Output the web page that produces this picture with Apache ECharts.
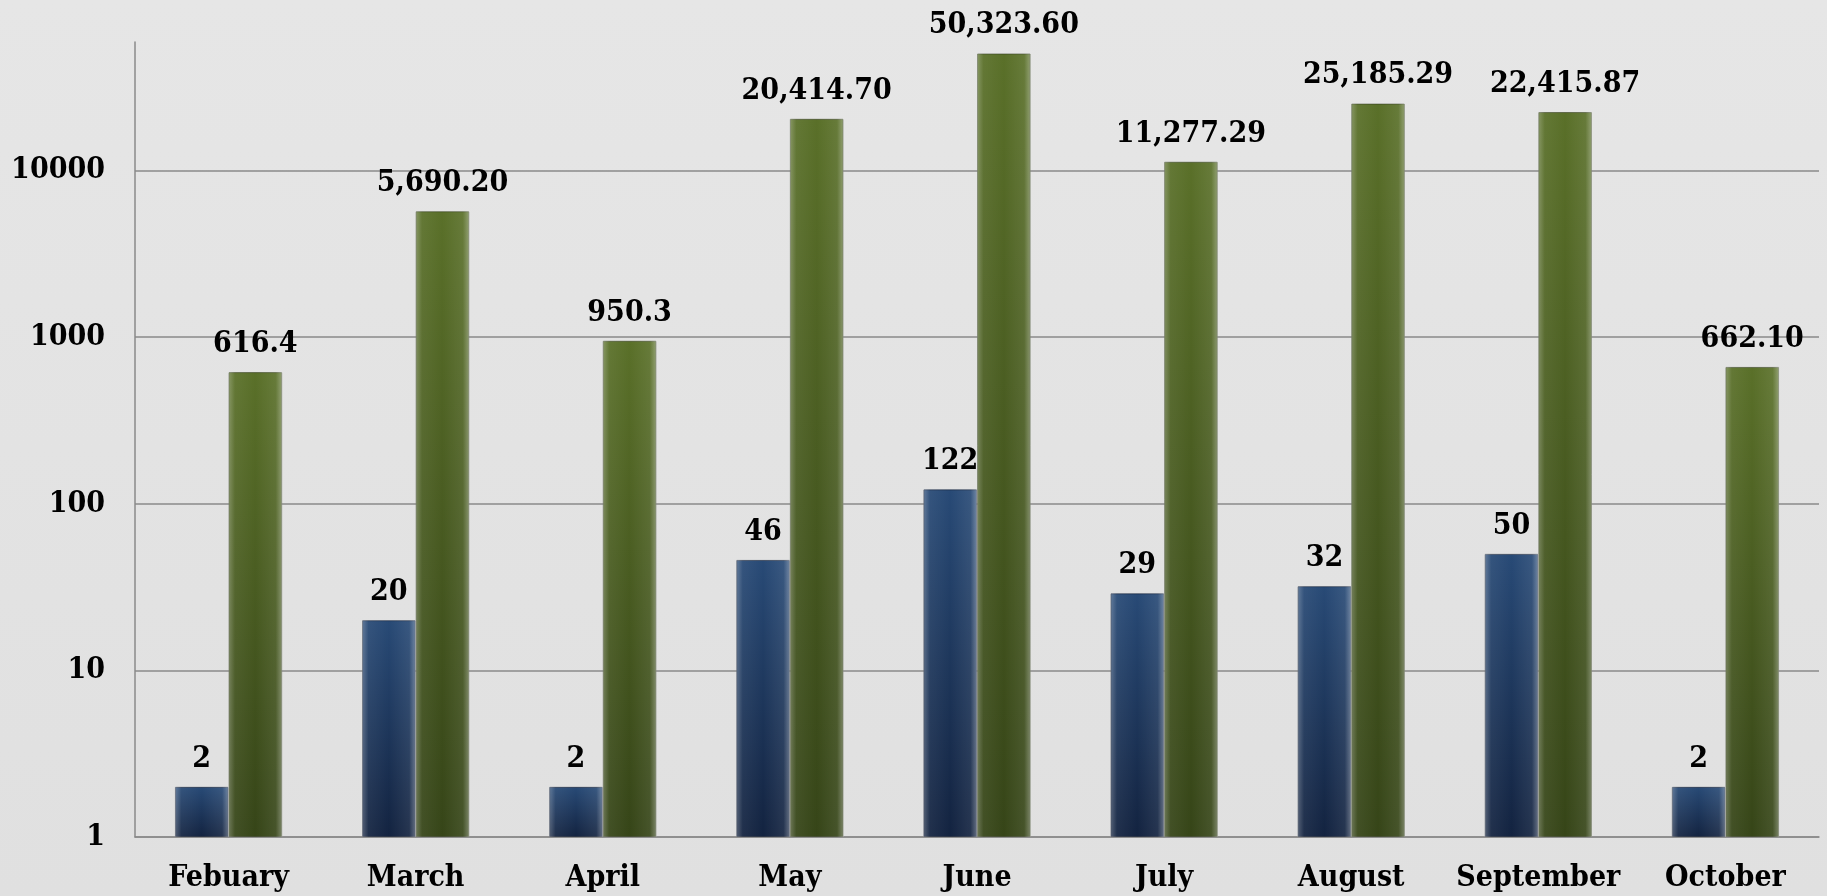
<!DOCTYPE html>
<html>
<head>
<meta charset="utf-8">
<script src="https://cdn.jsdelivr.net/npm/echarts@6/dist/echarts.min.js"></script>
<style>
  html, body { margin: 0; padding: 0; background: #e3e3e3; }
  #chart { width: 1827px; height: 896px; }
</style>
</head>
<body>
<div id="chart"></div>
<script>
const months = ['Febuary', 'March', 'April', 'May', 'June', 'July', 'August', 'September', 'October']
const blueValues = [2, 20, 2, 46, 122, 29, 32, 50, 2]
const greenValues = [616.4, 5690.20, 950.3, 20414.70, 50323.60, 11277.29, 25185.29, 22415.87, 662.10]
const greenLabels = ['616.4', '5,690.20', '950.3', '20,414.70', '50,323.60', '11,277.29', '25,185.29', '22,415.87', '662.10']

const font = "'DejaVu Serif Condensed', 'DejaVu Serif', serif"

let chart = echarts.init(document.getElementById('chart'))

// bevel highlight laid over each bar (same layout on a hidden twin x axis)
const shine = new echarts.graphic.LinearGradient(0, 0, 1, 0, [
  { offset: 0, color: 'rgba(255,255,255,0.28)' },
  { offset: 0.12, color: 'rgba(255,255,255,0.06)' },
  { offset: 0.5, color: 'rgba(255,255,255,0)' },
  { offset: 0.88, color: 'rgba(255,255,255,0.08)' },
  { offset: 1, color: 'rgba(255,255,255,0.35)' }
])

const labelStyle = {
  show: true,
  position: 'top',
  distance: 13,
  color: '#000',
  fontFamily: font,
  fontWeight: 'bold',
  fontSize: 30
}

chart.setOption({
  backgroundColor: new echarts.graphic.LinearGradient(0, 0, 0, 1, [
    { offset: 0, color: '#e6e6e6' },
    { offset: 1, color: '#e0e0e0' }
  ]),
  animation: false,
  grid: {
    left: 135,
    right: 8,
    top: 42,
    bottom: 59
  },
  xAxis: [{
    type: 'category',
    data: months,
    axisLine: { show: true, lineStyle: { color: '#8a8a8a', width: 1.5 } },
    axisTick: { show: false },
    axisLabel: {
      interval: 0,
      color: '#000',
      fontFamily: font,
      fontWeight: 'bold',
      fontSize: 30,
      margin: 26
    }
  }, {
    type: 'category',
    data: months,
    show: false
  }],
  yAxis: {
    type: 'log',
    logBase: 10,
    min: 1,
    max: 59000,
    axisLine: { show: true, lineStyle: { color: '#8a8a8a', width: 1.5 } },
    axisTick: { show: false },
    splitLine: { show: true, showMaxLine: false, lineStyle: { color: '#8a8a8a', width: 1.5 } },
    axisLabel: {
      showMaxLabel: false,
      color: '#000',
      fontFamily: font,
      fontWeight: 'bold',
      fontSize: 30,
      margin: 30,
      formatter: function (v) {
        return String(Math.round(v))
      }
    }
  },
  series: [
    {
      name: 'Count',
      type: 'bar',
      barGap: '0%',
      barCategoryGap: '42.7%',
      data: blueValues,
      itemStyle: {
        color: new echarts.graphic.LinearGradient(0, 0, 0, 1, [
          { offset: 0, color: '#284a76' },
          { offset: 1, color: '#132340' }
        ]),
        borderColor: 'rgba(20,30,50,0.6)',
        borderWidth: 1
      },
      label: labelStyle
    },
    {
      name: 'Amount',
      type: 'bar',
      barGap: '0%',
      barCategoryGap: '42.7%',
      data: greenValues,
      itemStyle: {
        color: new echarts.graphic.LinearGradient(0, 0, 0, 1, [
          { offset: 0, color: '#5a7029' },
          { offset: 1, color: '#364518' }
        ]),
        borderColor: 'rgba(50,60,30,0.6)',
        borderWidth: 1
      },
      label: Object.assign({}, labelStyle, {
        formatter: function (p) {
          return greenLabels[p.dataIndex]
        }
      })
    },
    {
      type: 'bar',
      xAxisIndex: 1,
      barGap: '0%',
      barCategoryGap: '42.7%',
      data: blueValues,
      silent: true,
      itemStyle: { color: shine }
    },
    {
      type: 'bar',
      xAxisIndex: 1,
      barGap: '0%',
      barCategoryGap: '42.7%',
      data: greenValues,
      silent: true,
      itemStyle: { color: shine }
    }
  ]
})
</script>
</body>
</html>
